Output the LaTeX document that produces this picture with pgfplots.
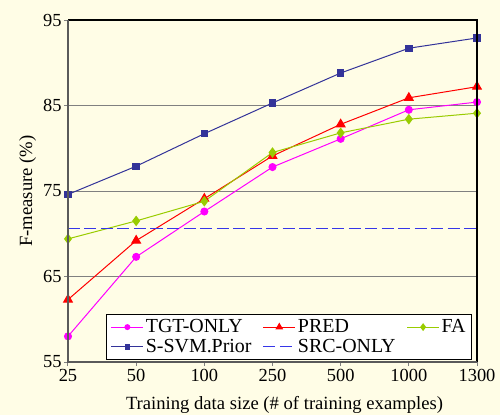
\documentclass[border=0pt]{standalone}
\usepackage{pgfplots}
\pgfplotsset{compat=1.18}
\usepackage{fontspec}
\setmainfont{Liberation Serif}
\usetikzlibrary{backgrounds}
\definecolor{cream}{HTML}{FFFDE6}
\definecolor{tgt}{HTML}{FF00FF}
\definecolor{pred}{HTML}{FF0000}
\definecolor{fa}{HTML}{99CC00}
\definecolor{ssvm}{HTML}{333399}
\definecolor{src}{HTML}{3636E8}
\definecolor{gridg}{HTML}{808080}
\begin{document}
\begin{tikzpicture}
\begin{axis}[
  scale only axis,
  width=409bp, height=342bp,
  at={(0,0)}, anchor=south west,
  xmin=0, xmax=6, ymin=55, ymax=95,
  xtick={0,1,2,3,4,5,6},
  xticklabels={25,50,100,250,500,1000,1300},
  ytick={55,65,75,85,95},
  ymajorgrids,
  grid style={gridg, line width=1bp},
  axis line style={draw=none},
  tick style={gridg, line width=1bp},
  tick align=outside,
  major tick length=4bp,
  xtick pos=bottom, ytick pos=left,
  ticklabel style={font=\fontsize{18.5}{18.5}\selectfont},
  yticklabel style={xshift=1bp},
  /pgf/number format/assume math mode=true,
  xlabel={Training data size (\# of training examples)},
  ylabel={F-measure (\%)},
  label style={font=\fontsize{18.7}{18.7}\selectfont},
  xlabel style={yshift=-8bp, xshift=12bp},
  ylabel style={yshift=0bp},
  legend columns=3,
  legend style={at={(0.988,0.007)}, anchor=south east,
    font=\fontsize{20}{21}\selectfont, draw=black, line width=1bp,
    fill=white, inner xsep=4bp, inner ysep=3bp,
    /tikz/every even column/.append style={column sep=9bp},
    row sep=1bp},
  legend cell align=left,
  legend image code/.code={\draw[mark repeat=2,mark phase=2] plot coordinates {(0bp,0bp) (16bp,0bp) (32bp,0bp)};},
  legend image post style={mark options={solid, scale=0.7}},
  clip=false,
]
\addplot[tgt, line width=1bp, mark=*, mark size=3.5bp, mark options={solid}] coordinates {
(0,58.0) (1,67.3) (2,72.6) (3,77.8) (4,81.1) (5,84.5) (6,85.4)};
\addlegendentry{TGT-ONLY}
\addplot[pred, line width=1bp, mark=triangle*, mark size=5bp, mark options={solid}] coordinates {
(0,62.3) (1,69.2) (2,74.1) (3,79.1) (4,82.8) (5,85.9) (6,87.2)};
\addlegendentry{PRED}
\addplot[fa, line width=1bp, mark=diamond*, mark size=4.5bp, mark options={solid}] coordinates {
(0,69.4) (1,71.5) (2,73.8) (3,79.5) (4,81.8) (5,83.4) (6,84.1)};
\addlegendentry{FA}
\addplot[ssvm, line width=1bp, mark=square*, mark size=3.2bp, mark options={solid}] coordinates {
(0,74.6) (1,77.9) (2,81.7) (3,85.3) (4,88.8) (5,91.7) (6,92.9)};
\addlegendentry{S-SVM.Prior}
\addplot[src, line width=1.4bp, dash pattern=on 12bp off 4.5bp] coordinates {
(0,70.6) (1,70.6) (2,70.6) (3,70.6) (4,70.6) (5,70.6) (6,70.6)};
\addlegendentry{SRC-ONLY}
\end{axis}
\draw[black, line width=1.3bp] (0,342bp)--(409bp,342bp)--(409bp,0);
\draw[gridg!70!black, line width=1.3bp] (0,342bp)--(0,0)--(409bp,0);
\begin{pgfonlayer}{background}
\fill[cream] (-68bp,-53bp) rectangle (432bp,362bp);
\end{pgfonlayer}
\useasboundingbox (-68bp,-53bp) rectangle (432bp,362bp);
\end{tikzpicture}
\end{document}
